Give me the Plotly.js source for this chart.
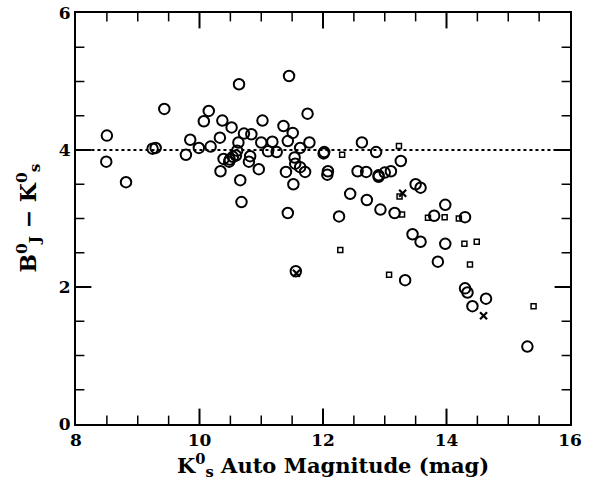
<!DOCTYPE html>
<html><head><meta charset="utf-8">
<script src="https://cdn.plot.ly/plotly-3.0.1.min.js"></script>
<style>body{margin:0;background:#fff}#c{width:594px;height:478px}</style>
</head><body><div id="c"></div>
<script>
const circX=[8.50,8.49,8.81,9.24,9.29,9.43,9.78,9.85,9.99,10.07,10.15,10.18,10.33,10.34,10.37,10.39,10.48,10.49,10.54,10.52,10.59,10.61,10.63,10.64,10.66,10.68,10.72,10.80,10.82,10.84,10.96,11.00,11.02,11.11,11.18,11.25,11.36,11.40,11.43,11.43,11.45,11.51,11.52,11.54,11.55,11.63,11.63,11.71,11.75,11.78,11.56,12.01,12.02,12.08,12.07,12.26,12.44,12.56,12.63,12.70,12.71,12.86,12.90,12.90,12.93,13.00,13.10,13.16,13.26,13.33,13.45,13.50,13.58,13.58,13.80,13.86,13.98,13.98,14.30,14.30,14.34,14.42,14.64,15.31];
const circY=[4.21,3.83,3.53,4.02,4.03,4.60,3.93,4.15,4.03,4.42,4.57,4.05,4.18,3.69,4.43,3.87,3.83,3.86,3.90,4.33,3.92,3.99,4.11,4.96,3.56,3.24,4.24,3.83,3.91,4.23,3.72,4.11,4.43,3.98,4.12,3.97,4.35,3.68,4.13,3.08,5.08,4.25,3.50,3.89,3.80,4.03,3.75,3.68,4.53,4.11,2.23,3.95,3.97,3.69,3.64,3.03,3.36,3.69,4.11,3.68,3.27,3.97,3.61,3.63,3.13,3.67,3.69,3.08,3.84,2.10,2.77,3.50,3.45,2.66,3.04,2.37,3.20,2.63,3.02,1.98,1.92,1.72,1.83,1.13];
const sqX=[12.31,12.28,13.23,13.24,13.28,13.07,13.70,13.97,14.20,14.29,14.49,14.38,15.41];
const sqY=[3.93,2.54,4.06,3.32,3.06,2.18,3.01,3.02,3.00,2.63,2.66,2.33,1.72];
const crX=[11.57,14.60,13.29];
const crY=[2.20,1.58,3.37];
const refX=[8.25,16];
const refY=[4,4];
const xTicks=[8,10,12,14,16];
const yTicks=[0,2,4,6];
const xMajorInner=[10,12,14];
const yMajorInner=[2,4];
const xMinor=[8.5,9,9.5,10.5,11,11.5,12.5,13,13.5,14.5,15,15.5];
const yMinor=[0.5,1,1.5,2.5,3,3.5,4.5,5,5.5];
const xRange=[8,16];
const yRange=[0,6];

const fontFam='"DejaVu Serif", serif';
function tickTrace(xs,ys,sym,size,w){
 return {x:xs,y:ys,mode:'markers',cliponaxis:true,hoverinfo:'skip',
  marker:{symbol:sym,size:size,color:'#000',line:{width:w,color:'#000'}}};
}
const traces=[
 {x:refX,y:refY,mode:'lines',line:{color:'#000',width:1.8,dash:'dot'},hoverinfo:'skip'},
 {x:circX,y:circY,mode:'markers',marker:{symbol:'circle-open',size:10.5,color:'#000',line:{width:2,color:'#000'}}},
 {x:sqX,y:sqY,mode:'markers',marker:{symbol:'square-open',size:5,color:'#000',line:{width:1.5,color:'#000'}}},
 {x:crX,y:crY,mode:'markers',marker:{symbol:'x-thin-open',size:7,color:'#000',line:{width:2.2,color:'#000'}}},
 tickTrace(xMajorInner,xMajorInner.map(()=>yRange[0]),'line-ns',22,2),
 tickTrace(xMajorInner,xMajorInner.map(()=>yRange[1]),'line-ns',22,2),
 tickTrace(xMinor,xMinor.map(()=>yRange[0]),'line-ns',12,1.5),
 tickTrace(xMinor,xMinor.map(()=>yRange[1]),'line-ns',12,1.5),
 tickTrace(yMajorInner.map(()=>xRange[0]),yMajorInner,'line-ew',22,2),
 tickTrace(yMajorInner.map(()=>xRange[1]),yMajorInner,'line-ew',22,2),
 tickTrace(yMinor.map(()=>xRange[0]),yMinor,'line-ew',12,1.5),
 tickTrace(yMinor.map(()=>xRange[1]),yMinor,'line-ew',12,1.5)
];

const axBase={showgrid:false,zeroline:false,showline:true,linecolor:'#000',linewidth:2,mirror:true,
 ticks:'',tickfont:{family:fontFam,size:17,color:'#000',weight:700}};
const layout={
 width:594,height:478,showlegend:false,plot_bgcolor:'#fff',paper_bgcolor:'#fff',
 margin:{l:76,r:24,t:13,b:54},
 xaxis:Object.assign({},axBase,{range:xRange,tickvals:xTicks,ticktext:xTicks.map(v=>'<b>'+v+'</b>')}),
 yaxis:Object.assign({},axBase,{range:yRange,tickvals:yTicks,ticktext:yTicks.map(v=>'<b>'+v+'</b>')}),
 annotations:[
  {text:'<b>K<sup>0</sup><sub>s</sub> Auto Magnitude (mag)</b>',xref:'paper',yref:'paper',x:0.52,y:-0.1,xanchor:'center',yanchor:'middle',showarrow:false,font:{family:fontFam,size:21,color:'#000'}},
  {text:'<b>B<sup>0</sup><sub>J</sub> − K<sup>0</sup><sub>s</sub></b>',xref:'paper',yref:'paper',x:-0.097,y:0.5,xanchor:'center',yanchor:'middle',textangle:-90,showarrow:false,font:{family:fontFam,size:22,color:'#000'}}
 ]
};
Plotly.newPlot('c',traces,layout,{displayModeBar:false,staticPlot:true});
</script></body></html>
